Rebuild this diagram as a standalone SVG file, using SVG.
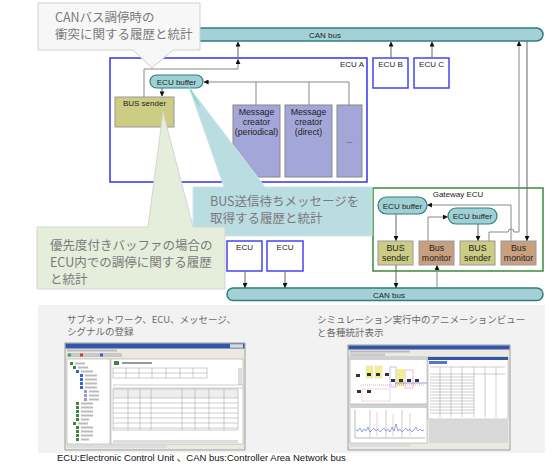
<svg xmlns="http://www.w3.org/2000/svg" width="557" height="470" viewBox="0 0 557 470">
<defs>
<marker id="ah" viewBox="0 0 6 6" refX="5.5" refY="3" markerWidth="5" markerHeight="5" orient="auto" markerUnits="userSpaceOnUse"><path d="M0,0 L6,3 L0,6 z" fill="#111"/></marker>
<style>
.bus{fill:#a3d1d5;stroke:#2f7e82;stroke-width:1.5}
.lbl{font-family:"Liberation Sans",Arial,sans-serif;font-size:8px;fill:#222}
.lbl9{font-family:"Liberation Sans",Arial,sans-serif;font-size:8.8px;fill:#222}
.ecu{fill:#fff;stroke:#4444ee;stroke-width:1.5}
.buf{fill:#9fd0d4;stroke:#2f7e82;stroke-width:1.2}
.snd{fill:#cccc84;stroke:#999;stroke-width:1}
.mon{fill:#c9a07f;stroke:#999;stroke-width:1}
.msg{fill:#a3a6d8;stroke:#888;stroke-width:1}
.cn{fill:none;stroke:#888;stroke-width:1}
.cd{fill:none;stroke:#666;stroke-width:1}
.jp{font-family:"Noto Sans CJK JP",sans-serif;font-size:12.5px;fill:#7a7a7a}
.jps{font-family:"Noto Sans CJK JP",sans-serif;font-size:9.5px;fill:#6a6a6a}
.grid{stroke:#9a9a9a;stroke-width:0.5;fill:none}
</style>
</defs>
<rect width="557" height="470" fill="#fff"/>

<g id="canbus-top">
<rect class="bus" x="160" y="28" width="383" height="13" rx="6.5"/>
<text class="lbl" x="325" y="37.5" text-anchor="middle">CAN bus</text>
</g>
<g id="canbus-bottom">
<rect class="bus" x="227" y="288" width="316" height="12.5" rx="6.2"/>
<text class="lbl" x="389" y="297.5" text-anchor="middle">CAN bus</text>
</g>

<g id="ecu-a">
<rect x="110" y="58" width="257" height="124" fill="#fff" stroke="#3333ee" stroke-width="1.5"/>
<text class="lbl" x="364" y="67" text-anchor="end">ECU A</text>
</g>
<g id="ecu-b"><rect class="ecu" x="373" y="58" width="35" height="30"/><text class="lbl" x="390.5" y="67" text-anchor="middle">ECU B</text></g>
<g id="ecu-c"><rect class="ecu" x="414" y="58" width="35" height="30"/><text class="lbl" x="431.5" y="67" text-anchor="middle">ECU C</text></g>

<g id="ecu-a-buffer"><rect class="buf" x="150" y="75" width="53" height="13" rx="6.5"/><text class="lbl" x="176.5" y="84.5" text-anchor="middle">ECU buffer</text></g>
<g id="ecu-a-bus-sender"><rect class="snd" x="115" y="97" width="59" height="30"/><text class="lbl" x="144.5" y="106" text-anchor="middle">BUS sender</text></g>
<g id="msg-periodical"><rect class="msg" x="233" y="105" width="47" height="72"/>
<text class="lbl9" text-anchor="middle"><tspan x="256.5" y="115">Message</tspan><tspan x="256.5" y="125">creator</tspan><tspan x="256.5" y="135">(periodical)</tspan></text></g>
<g id="msg-direct"><rect class="msg" x="285" y="105" width="47" height="72"/>
<text class="lbl9" text-anchor="middle"><tspan x="308.5" y="115">Message</tspan><tspan x="308.5" y="125">creator</tspan><tspan x="308.5" y="135">(direct)</tspan></text></g>
<g id="msg-more"><rect class="msg" x="337" y="105" width="25" height="72"/><text class="lbl" x="349.5" y="143" text-anchor="middle" fill="#555">...</text></g>

<g id="ecu-1"><rect class="ecu" x="227" y="241" width="35" height="30"/><text class="lbl" x="244.5" y="250" text-anchor="middle">ECU</text></g>
<g id="ecu-2"><rect class="ecu" x="267" y="241" width="36" height="30"/><text class="lbl" x="285" y="250" text-anchor="middle">ECU</text></g>

<g id="gateway-ecu"><rect x="373" y="188" width="170" height="83" fill="#fff" stroke="#3a8a3a" stroke-width="1.5"/><text class="lbl" x="458" y="197" text-anchor="middle">Gateway ECU</text></g>
<g id="gw-buffer-1"><rect class="buf" x="378" y="197" width="49" height="17" rx="8.5"/><text class="lbl" x="402.5" y="208.5" text-anchor="middle">ECU buffer</text></g>
<g id="gw-buffer-2"><rect class="buf" x="448" y="208" width="49" height="16" rx="8"/><text class="lbl" x="472.5" y="219" text-anchor="middle">ECU buffer</text></g>
<g id="gw-sender-1"><rect class="snd" x="378" y="241" width="35" height="24"/><text class="lbl9" text-anchor="middle"><tspan x="395.5" y="251">BUS</tspan><tspan x="395.5" y="261">sender</tspan></text></g>
<g id="gw-monitor-1"><rect class="mon" x="419" y="241" width="35" height="24"/><text class="lbl9" text-anchor="middle"><tspan x="436.5" y="251">Bus</tspan><tspan x="436.5" y="261">monitor</tspan></text></g>
<g id="gw-sender-2"><rect class="snd" x="460" y="241" width="35" height="24"/><text class="lbl9" text-anchor="middle"><tspan x="477.5" y="251">BUS</tspan><tspan x="477.5" y="261">sender</tspan></text></g>
<g id="gw-monitor-2"><rect class="mon" x="501" y="241" width="35" height="24"/><text class="lbl9" text-anchor="middle"><tspan x="518.5" y="251">Bus</tspan><tspan x="518.5" y="261">monitor</tspan></text></g>

<g id="connectors">
<path class="cn" d="M144,97 V69 H238 V59.5" marker-end="url(#ah)"/>
<path class="cd" d="M238,58 V42" marker-end="url(#ah)"/>
<path class="cd" d="M391,58 V42" marker-end="url(#ah)"/>
<path class="cd" d="M432,58 V42" marker-end="url(#ah)"/>
<path class="cd" d="M162,88 V96" marker-end="url(#ah)"/>
<path class="cn" d="M349,105 V82 H204" marker-end="url(#ah)"/>
<path class="cn" d="M256,105 V82"/>
<path class="cn" d="M309,105 V82"/>
<path class="cd" d="M245,271 V287.5" marker-end="url(#ah)"/>
<path class="cd" d="M285,271 V287.5" marker-end="url(#ah)"/>
<path class="cd" d="M396,214 V240.5" marker-end="url(#ah)"/>
<path class="cd" d="M396,265 V287.5" marker-end="url(#ah)"/>
<path class="cn" d="M437,288 V265.5" marker-end="url(#ah)"/>
<path class="cn" d="M428,241 V217 H447.5" marker-end="url(#ah)"/>
<path class="cd" d="M478,224 V240.5" marker-end="url(#ah)"/>
<path class="cn" d="M511,241 V205 H427.5" marker-end="url(#ah)"/>
<path class="cn" d="M489,241 V232 H508 A3,3 0 0 1 514,232 H519 V41.5" marker-end="url(#ah)"/>
<path class="cd" d="M527,41 V240.5" marker-end="url(#ah)"/>
</g>

<g id="callout-collision">
<path d="M38,3 H200 V50 H173 L152,68 L133,50 H38 Z" fill="#f7f7f7" stroke="#cfcfcf" stroke-width="1"/>
<text class="jp"><tspan x="55" y="22">CANバス調停時の</tspan><tspan x="55" y="39">衝突に関する履歴と統計</tspan></text>
</g>
<g id="callout-wait">
<path d="M193,187 H224 L189,87 L265,187 H372 V236 H193 Z" fill="#b9dde0" stroke="#cfe5e6" stroke-width="1"/>
<line x1="189" y1="87" x2="199" y2="106" stroke="#3cd6a0" stroke-width="0.8"/>
<text class="jp"><tspan x="210" y="206">BUS送信待ちメッセージを</tspan><tspan x="210" y="223">取得する履歴と統計</tspan></text>
</g>
<g id="callout-priority">
<path d="M37,227 H148 L163,112 L193,227 H225 V289 H37 Z" fill="#e5eedb" stroke="#d4d4d4" stroke-width="1"/>
<text class="jp"><tspan x="50" y="250">優先度付きバッファの場合の</tspan><tspan x="50" y="267">ECU内での調停に関する履歴</tspan><tspan x="50" y="284">と統計</tspan></text>
</g>

<g id="panel">
<rect x="38" y="305" width="507" height="148" fill="#f2f2f2"/>
<text class="jps"><tspan x="67" y="323">サブネットワーク、ECU、メッセージ、</tspan><tspan x="67" y="335">シグナルの登録</tspan></text>
<text class="jps"><tspan x="317" y="323">シミュレーション実行中のアニメーションビュー</tspan><tspan x="317" y="336">と各種統計表示</tspan></text>
</g>

<g id="screenshot-1">
<rect x="65" y="343" width="180" height="107" fill="#ece9e0" stroke="#8a8a8a" stroke-width="0.8"/>
<rect x="65.5" y="343.5" width="179" height="5" fill="#3356a8"/>
<rect x="230" y="344.2" width="13" height="3.6" fill="#d8d8d8"/>
<rect x="67" y="349.5" width="50" height="2" fill="#bbb"/>
<rect x="67" y="353" width="55" height="4" fill="#c8c8c8"/>
<rect x="68" y="353.5" width="3" height="3" fill="#3a6"/>
<rect x="80" y="353.5" width="3" height="3" fill="#d33"/>
<rect x="100" y="353.5" width="3" height="3" fill="#36c"/>
<rect x="67" y="359" width="43" height="85" fill="#fff" stroke="#999" stroke-width="0.5"/>
<g fill="#3a8a3a">
<rect x="70" y="362" width="3" height="3"/><rect x="73" y="366" width="3" height="3"/><rect x="76" y="370" width="3" height="3" fill="#3366cc"/>
<rect x="80" y="374" width="3" height="3" fill="#3366cc"/><rect x="80" y="378" width="3" height="3" fill="#3366cc"/><rect x="80" y="382" width="3" height="3" fill="#3366cc"/><rect x="80" y="386" width="3" height="3" fill="#3366cc"/>
<rect x="84" y="390" width="3" height="3" fill="#9999cc"/><rect x="84" y="394" width="3" height="3" fill="#9999cc"/><rect x="84" y="398" width="3" height="3" fill="#9999cc"/>
<rect x="76" y="402" width="3" height="3"/><rect x="76" y="406" width="3" height="3"/><rect x="76" y="410" width="3" height="3"/><rect x="76" y="414" width="3" height="3"/><rect x="76" y="418" width="3" height="3"/>
<rect x="73" y="422" width="3" height="3"/><rect x="76" y="426" width="3" height="3"/><rect x="76" y="430" width="3" height="3"/><rect x="76" y="434" width="3" height="3"/><rect x="76" y="438" width="3" height="3"/>
</g>
<g fill="#bbb">
<rect x="75" y="362.5" width="10" height="2"/><rect x="78" y="366.5" width="10" height="2"/><rect x="81" y="370.5" width="12" height="2"/>
<rect x="85" y="374.5" width="12" height="2"/><rect x="85" y="378.5" width="12" height="2"/><rect x="85" y="382.5" width="12" height="2"/><rect x="85" y="386.5" width="12" height="2"/>
<rect x="89" y="390.5" width="10" height="2"/><rect x="89" y="394.5" width="10" height="2"/><rect x="89" y="398.5" width="10" height="2"/>
<rect x="81" y="402.5" width="12" height="2"/><rect x="81" y="406.5" width="12" height="2"/><rect x="81" y="410.5" width="12" height="2"/><rect x="81" y="414.5" width="12" height="2"/><rect x="81" y="418.5" width="8" height="2"/>
<rect x="78" y="422.5" width="10" height="2"/><rect x="81" y="426.5" width="12" height="2"/><rect x="81" y="430.5" width="12" height="2"/><rect x="81" y="434.5" width="12" height="2"/><rect x="81" y="438.5" width="8" height="2"/>
</g>
<rect x="111" y="359" width="132" height="85" fill="#fff" stroke="#999" stroke-width="0.5"/>
<rect x="114" y="361" width="5" height="4" fill="#3a8a3a"/>
<rect x="122" y="362" width="30" height="2" fill="#999"/>
<rect x="113" y="368" width="94" height="10" fill="#eee" class="grid"/>
<path class="grid" d="M126,368 V378 M139,368 V378 M152,368 V378 M166,368 V378 M180,368 V378 M193,368 V378 M113,373 H207"/>
<rect x="238" y="368" width="4" height="17" fill="#ddd"/>
<path class="grid" d="M113,385 H243 M113,388 H243"/>
<rect x="113" y="389" width="125" height="9" fill="#eee"/>
<path class="grid" d="M113,389 H238 V430 H113 Z M128,389 V430 M140,389 V430 M151,389 V430 M182,389 V430 M195,389 V430 M209,389 V430 M224,389 V430 M113,398 H238 M113,403 H238 M113,408 H238 M113,413 H238 M113,418 H238 M113,423 H238 M113,428 H238"/>
<rect x="113" y="440" width="125" height="3" fill="#ddd"/>
<rect x="67" y="445" width="100" height="3" fill="#ddd"/>
</g>

<g id="screenshot-2">
<rect x="348" y="345" width="162" height="105" fill="#ece9e0" stroke="#8a8a8a" stroke-width="0.8"/>
<rect x="348.5" y="345.5" width="161" height="4" fill="#3356a8"/>
<rect x="350" y="350.5" width="60" height="2" fill="#bbb"/>
<rect x="350" y="353.5" width="35" height="2.5" fill="#c8c8c8"/>
<rect x="350" y="357" width="77" height="47" fill="#fff" stroke="#999" stroke-width="0.5"/>
<rect x="350" y="357" width="77" height="3" fill="#d0d0d8"/>
<g fill="#f3f08a" stroke="#ddd" stroke-width="0.4">
<rect x="366" y="366" width="7" height="12"/><rect x="375" y="366" width="7" height="12"/>
</g>
<rect x="405" y="370" width="8" height="18" fill="none" stroke="#e090b0" stroke-width="0.6"/>
<rect x="390" y="367" width="6" height="20" fill="none" stroke="#9999dd" stroke-width="0.6"/>
<rect x="397" y="369" width="7" height="17" fill="#f3f08a"/>
<rect x="362" y="389" width="28" height="12" fill="none" stroke="#e0b0c0" stroke-width="0.5"/>
<g fill="#333">
<rect x="356" y="374" width="4" height="3"/><rect x="367" y="373" width="4" height="3"/><rect x="376" y="373" width="4" height="3"/><rect x="385" y="373" width="4" height="3"/>
<rect x="357" y="390" width="4" height="3"/><rect x="367" y="390" width="4" height="3"/>
<rect x="391" y="379" width="4" height="3"/><rect x="399" y="379" width="4" height="3"/><rect x="407" y="379" width="4" height="3"/><rect x="415" y="379" width="4" height="3"/>
</g>
<path d="M361,385 H425" stroke="#e070a0" stroke-width="0.6" stroke-dasharray="1,1"/>
<path d="M395,383 H427" stroke="#5555cc" stroke-width="0.6"/>
<rect x="428" y="357" width="80" height="62" fill="#fff" stroke="#999" stroke-width="0.5"/>
<rect x="428" y="357" width="80" height="3" fill="#3356a8"/>
<rect x="429" y="361" width="18" height="3" fill="#5577bb"/>
<path class="grid" d="M430,367 H505 M430,374 H505 M440,367 V417 M451,367 V417 M462,367 V417 M474,367 V417 M485,367 V417 M496,367 V417"/>
<path class="grid" d="M430,377 H474 M430,380 H474 M430,383 H474 M430,386 H474 M430,389 H474 M430,392 H474 M430,395 H474 M430,398 H474 M430,401 H474 M430,404 H474 M430,407 H474 M430,410 H474 M430,413 H474"/>
<rect x="429" y="419" width="79" height="24" fill="#d8d8d8"/>
<rect x="350" y="405" width="77" height="38" fill="#fff" stroke="#999" stroke-width="0.5"/>
<rect x="350" y="405" width="77" height="3" fill="#d0d0d8"/>
<path d="M355,410 V438 H425" fill="none" stroke="#777" stroke-width="0.5"/>
<path d="M370,410 V438 M386,410 V438 M402,410 V438" stroke="#999" stroke-width="0.5"/>
<path d="M377,412 V436 M393,414 V436 M410,413 V436" stroke="#e08090" stroke-width="0.4"/>
<polyline points="356,430 358,431 360,428 362,432 364,429 366,431 368,427 370,432 372,430 374,428 376,431 378,429 380,432 382,430 384,428 386,431 388,429 390,432 392,427 394,431 396,424 398,431 400,429 402,432 404,430 406,428 408,431 410,429 412,432 414,430 416,427 418,431 420,429 422,431 424,430" fill="none" stroke="#4a6ad0" stroke-width="0.6"/>
<rect x="350" y="444" width="60" height="3" fill="#ddd"/>
</g>

<text x="57" y="461" font-family="'Liberation Sans',Arial,'Noto Sans CJK JP',sans-serif" font-size="9.5" fill="#111">ECU:Electronic Control Unit 、CAN bus:Controller Area Network bus</text>
</svg>
